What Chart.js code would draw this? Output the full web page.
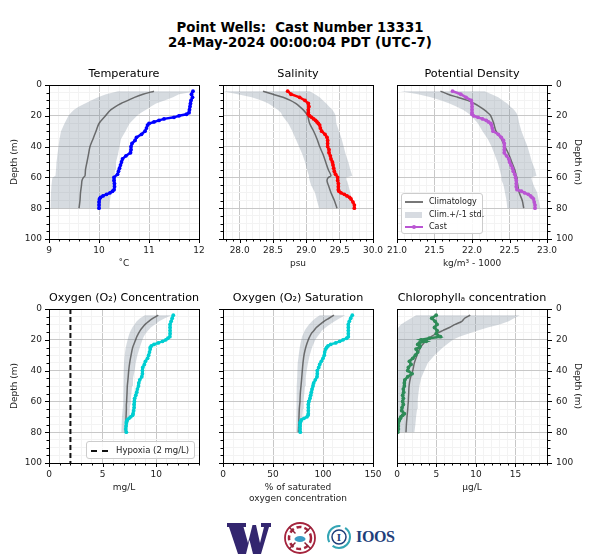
<!DOCTYPE html>
<html>
<head>
<meta charset="utf-8">
<script src="https://cdn.jsdelivr.net/npm/chart.js@4"></script>
<style>
  body { margin: 0; background: #fff; font-family: "DejaVu Sans", sans-serif; color: #000; }
  #page { position: relative; width: 600px; height: 560px; overflow: hidden; }
  canvas { position: absolute; }
  #heading { position: absolute; left: 0; top: 20px; width: 600px; text-align: center; font-weight: bold; font-size: 13.3px; line-height: 15px; white-space: pre; }
  .legend { position: absolute; z-index: 2; background: rgba(255,255,255,.85); border: 1px solid #ccc; border-radius: 3px; box-sizing: border-box; color: #222; }
  .legend div { display: flex; align-items: center; white-space: nowrap; }
  .legend i { display: inline-block; flex: none; position: relative; }
  .legend b { position: absolute; left: 7px; top: -3px; width: 4px; height: 4px; border-radius: 50%; background: #ba55d3; }
  #logos { position: absolute; left: 0; top: 515px; }
</style>
</head>
<body>
<div id="page">
  <div id="heading">Point Wells:  Cast Number 13331
24-May-2024 00:00:04 PDT (UTC-7)</div>
  <div class="legend" style="left:401px;top:193px;width:82px;height:41px;padding:2px 0 0 3px;font-size:8px;line-height:12.5px">
    <div><i style="width:18px;height:0;border-top:2px solid #777;margin-right:6px"></i>Climatology</div>
    <div><i style="width:17px;height:6px;background:#d7dbe1;margin-right:7px"></i>Clim.+/-1 std.</div>
    <div><i style="width:18px;height:0;border-top:2px solid #ba55d3;margin-right:6px"><b></b></i>Cast</div>
  </div>
  <div class="legend" style="left:86px;top:441px;width:109px;height:18px;padding:2px 0 0 4px;font-size:8.5px;line-height:13px">
    <div><i style="width:17px;height:0;border-top:2px dashed #111;margin-right:8px"></i>Hypoxia (2 mg/L)</div>
  </div>
  <svg id="logos" width="600" height="45" viewBox="0 515 600 45">
    <path fill="#33266f" d="M227 523H246V527H243.500L248 543L252.500 525H256L260 543L264 527H261V523H271V527H269L261 554H253L249.500 540L246 554H238L229 527H227Z"/>
    <circle cx="300" cy="538" r="15" fill="#fff" stroke="#a5243d" stroke-width="1.800"/>
    <circle cx="300" cy="538" r="11" fill="none" stroke="#a5243d" stroke-width="2.500" stroke-dasharray="5 3"/>
    <path d="M289 527l22 22M311 527l-22 22" stroke="#8c2237" stroke-width="1.500"/>
    <circle cx="300" cy="538" r="6.500" fill="#fff"/>
    <ellipse cx="300" cy="539" rx="5.500" ry="3" fill="#3a9cc4"/>
    <circle cx="339" cy="537" r="11" fill="none" stroke="#33a5b5" stroke-width="2" stroke-dasharray="24 5"/>
    <circle cx="339" cy="537" r="7" fill="none" stroke="#1f3f7a" stroke-width="1.500"/>
    <text x="339" y="541" text-anchor="middle" font-family="Liberation Serif" font-weight="bold" font-size="11" fill="#1f3f7a">I</text>
    <text x="356" y="542" font-family="Liberation Serif" font-weight="bold" font-size="16" fill="#1f3f7a" textLength="39">IOOS</text>
  </svg>
</div>
<script>
// Depths (m) shared by the cast series and by the climatology series
const castDepths = [4, 6, 8, 10, 12, 14, 16, 18, 19, 20, 21, 22, 23, 24, 25, 26, 28, 30, 32, 34, 36, 38, 40, 42, 44, 46, 48, 50, 52, 54, 56, 58, 60, 62, 64, 66, 68, 69, 70, 71, 72, 73, 74, 76, 78, 80];
const climDepths = [4, 6, 8, 10, 12, 14, 16, 18, 20, 25, 30, 35, 40, 45, 50, 55, 59, 60, 62, 65, 70, 75, 80];

const tempCast = [11.88, 11.85, 11.87, 11.84, 11.83, 11.82, 11.81, 11.8, 11.75, 11.6, 11.5, 11.3, 11.2, 11.1, 11.0, 10.97, 10.95, 10.92, 10.85, 10.75, 10.72, 10.66, 10.64, 10.64, 10.63, 10.54, 10.47, 10.45, 10.43, 10.41, 10.39, 10.37, 10.3, 10.3, 10.31, 10.31, 10.3, 10.27, 10.22, 10.15, 10.08, 10.03, 10.01, 10.0, 10.0, 10.0];
const tempClim = [11.1, 10.88, 10.71, 10.58, 10.44, 10.33, 10.24, 10.18, 10.13, 10.0, 9.94, 9.88, 9.82, 9.79, 9.76, 9.73, 9.72, 9.69, 9.66, 9.65, 9.63, 9.62, 9.6];
const tempLow = [10.38, 10.14, 9.98, 9.84, 9.72, 9.6, 9.5, 9.44, 9.39, 9.31, 9.24, 9.21, 9.19, 9.17, 9.15, 9.14, 9.13, 9.07, 9.06, 9.05, 9.04, 9.03, 9.03];
const tempHigh = [11.95, 11.6, 11.48, 11.31, 11.14, 11.04, 10.94, 10.84, 10.76, 10.61, 10.53, 10.44, 10.41, 10.38, 10.34, 10.32, 10.31, 10.31, 10.3, 10.28, 10.24, 10.22, 10.21];

const salCast = [28.72, 28.77, 28.9, 28.98, 29.03, 29.04, 29.03, 29.03, 29.03, 29.05, 29.08, 29.11, 29.14, 29.16, 29.18, 29.2, 29.21, 29.23, 29.28, 29.31, 29.32, 29.32, 29.32, 29.34, 29.34, 29.36, 29.37, 29.39, 29.4, 29.41, 29.42, 29.44, 29.47, 29.47, 29.48, 29.48, 29.48, 29.49, 29.52, 29.57, 29.61, 29.65, 29.67, 29.7, 29.72, 29.72];
const salClim = [28.35, 28.5, 28.65, 28.76, 28.84, 28.9, 28.95, 28.99, 29.02, 29.05, 29.11, 29.16, 29.2, 29.25, 29.29, 29.33, 29.37, 29.33, 29.31, 29.33, 29.37, 29.42, 29.46];
const salLow = [27.75, 27.97, 28.18, 28.33, 28.43, 28.5, 28.57, 28.62, 28.64, 28.73, 28.79, 28.84, 28.89, 28.94, 28.98, 29.01, 29.04, 29.04, 29.05, 29.07, 29.13, 29.16, 29.19];
const salHigh = [29.05, 29.13, 29.2, 29.25, 29.3, 29.34, 29.39, 29.42, 29.44, 29.45, 29.49, 29.53, 29.56, 29.59, 29.63, 29.66, 29.69, 29.6, 29.61, 29.63, 29.66, 29.68, 29.7];

const densCast = [21.74, 21.85, 21.92, 21.99, 22.0, 22.0, 22.0, 22.0, 22.0, 22.02, 22.08, 22.14, 22.19, 22.22, 22.25, 22.26, 22.27, 22.28, 22.35, 22.39, 22.42, 22.43, 22.43, 22.43, 22.43, 22.46, 22.49, 22.5, 22.52, 22.54, 22.55, 22.57, 22.58, 22.59, 22.59, 22.59, 22.6, 22.66, 22.7, 22.75, 22.78, 22.8, 22.82, 22.83, 22.84, 22.84];
const densClim = [21.58, 21.68, 21.81, 21.94, 22.03, 22.1, 22.16, 22.21, 22.25, 22.29, 22.32, 22.39, 22.44, 22.49, 22.53, 22.57, 22.59, 22.6, 22.6, 22.61, 22.63, 22.67, 22.69];
const densLow = [21.05, 21.28, 21.45, 21.59, 21.7, 21.79, 21.88, 21.94, 21.99, 22.08, 22.14, 22.21, 22.26, 22.3, 22.34, 22.37, 22.39, 22.39, 22.4, 22.42, 22.44, 22.46, 22.47];
const densHigh = [22.17, 22.26, 22.35, 22.41, 22.47, 22.51, 22.56, 22.59, 22.61, 22.63, 22.66, 22.7, 22.74, 22.77, 22.8, 22.84, 22.86, 22.79, 22.8, 22.82, 22.87, 22.89, 22.91];

const oxyCast = [11.6, 11.5, 11.4, 11.3, 11.3, 11.3, 11.3, 11.28, 11.1, 10.9, 10.6, 10.2, 9.8, 9.55, 9.45, 9.45, 9.38, 9.3, 9.2, 9.0, 8.9, 8.75, 8.72, 8.72, 8.66, 8.47, 8.38, 8.35, 8.25, 8.19, 8.1, 8.0, 7.97, 7.94, 7.94, 7.9, 7.85, 7.8, 7.63, 7.47, 7.3, 7.25, 7.22, 7.19, 7.16, 7.22];
const oxyClim = [10.2, 9.72, 9.31, 8.97, 8.72, 8.5, 8.34, 8.19, 8.09, 7.81, 7.66, 7.53, 7.44, 7.38, 7.31, 7.28, 7.25, 7.25, 7.22, 7.22, 7.19, 7.16, 7.13];
const oxyLow = [8.94, 8.5, 8.19, 7.97, 7.78, 7.63, 7.5, 7.41, 7.34, 7.16, 7.06, 7.0, 6.97, 6.94, 6.91, 6.91, 6.91, 6.91, 6.91, 6.88, 6.81, 6.78, 6.72];
const oxyHigh = [11.44, 10.81, 10.28, 9.88, 9.5, 9.25, 9.0, 8.84, 8.72, 8.47, 8.25, 8.09, 8.0, 7.84, 7.75, 7.69, 7.63, 7.63, 7.59, 7.53, 7.47, 7.38, 7.31];
const hypoxiaX = [2, 2];
const hypoxiaDepth = [0, 100];

const satCast = [129.3, 127.7, 126.3, 125.3, 125.3, 125.3, 125.3, 125.3, 123.7, 120, 116.7, 112.7, 107.7, 105, 103.7, 102.7, 101.7, 101.3, 100, 98.3, 96.7, 95.7, 94.3, 94.3, 94, 92.3, 90.7, 90, 89, 88.3, 87.7, 87, 85.7, 85.3, 85.3, 85.3, 85.3, 85, 84, 81, 78.3, 77.7, 77, 77, 77, 77.3];
const satClim = [111, 106, 101, 97, 93.3, 91, 88.3, 86.7, 85.3, 82.7, 81, 80, 79.3, 78.7, 78, 77.3, 77, 77, 76.7, 76.3, 76, 75.7, 75.3];
const satLow = [96.7, 92.3, 89, 86, 83.7, 81.7, 80.3, 79, 78.3, 76.7, 75.7, 74.7, 74.3, 74, 73.7, 73.7, 73.7, 73.3, 73.3, 73, 73, 73, 73];
const satHigh = [122.3, 116.7, 111.7, 106.7, 102.7, 99, 96.7, 94.3, 92.3, 89, 86.7, 85, 83.7, 82.7, 82, 81.3, 80.7, 80.7, 80.3, 80, 79.3, 78.7, 78];

const chlCast = [4.96, 4.4, 4.83, 5.08, 4.75, 5.08, 4.96, 5.5, 4.1, 3.05, 3.7, 2.84, 2.63, 2.92, 2.84, 2.42, 2.63, 2.33, 2.0, 1.57, 1.78, 1.44, 1.36, 1.9, 1.36, 1.0, 0.93, 0.93, 0.8, 0.85, 0.72, 0.8, 0.72, 0.8, 0.64, 0.6, 0.93, 0.72, 0.5, 0.42, 0.3, 0.2, 0.17, 0.17, 0.17, 0.1];
const chlClim = [9.28, 8.56, 8.22, 7.37, 6.65, 5.8, 4.96, 4.32, 3.81, 2.97, 2.54, 2.2, 2.0, 1.69, 1.53, 1.48, 1.44, 1.44, 1.4, 1.36, 1.27, 1.19, 1.14];
const chlLow = [2.42, 1.78, 1.14, 0.5, 0.17, 0, 0, 0, 0, 0, 0, 0, 0, 0, 0, 0, 0, 0, 0, 0, 0, 0, 0];
const chlHigh = [15.55, 14.83, 14.15, 13, 11.5, 10.25, 9, 7.9, 7.08, 5.8, 4.75, 3.9, 3.47, 3.05, 2.84, 2.71, 2.63, 2.63, 2.63, 2.54, 2.42, 2.33, 2.2];

// Axis ticks
const depthMajor = [0, 20, 40, 60, 80, 100];
const depthLabels = ['0', '20', '40', '60', '80', '100'];
const tempMajor = [9, 10, 11, 12];
const tempLabels = ['9', '10', '11', '12'];
const salMajor = [28, 28.5, 29, 29.5, 30];
const salLabels = ['28.0', '28.5', '29.0', '29.5', '30.0'];
const densMajor = [21, 21.5, 22, 22.5, 23];
const densLabels = ['21.0', '21.5', '22.0', '22.5', '23.0'];
const oxyMajor = [0, 5, 10];
const oxyLabels = ['0', '5', '10'];
const satMajor = [0, 50, 100, 150];
const satLabels = ['0', '50', '100', '150'];
const chlMajor = [0, 5, 10, 15];
const chlLabels = ['0', '5', '10', '15'];

const FONT = '"DejaVu Sans", sans-serif';
const TEXT = '#222';
const CLIM_COLOR = 'rgba(70,70,70,0.75)';
const BAND_COLOR = 'rgba(119,136,153,0.3)';
const TITLE_H = 25;
const PLOT_H = 154;

const pts = (xs, ys) => xs.map((x, i) => ({ x, y: ys[i] }));
const round3 = v => Math.round(v * 1000) / 1000;

const stepTicks = (min, max, step) => {
  const out = [];
  for (let v = Math.ceil(min / step - 1e-6) * step; v <= max + 1e-6; v += step) out.push(round3(v));
  return out;
};

// box around the plot and the tick marks, long on labelled ticks
const framePlugin = (xMajor, yRight) => ({
  id: 'frame',
  afterDraw(chart) {
    const { ctx, chartArea: a, scales } = chart;
    ctx.save();
    ctx.strokeStyle = '#000';
    ctx.lineWidth = 1;
    ctx.strokeRect(a.left + 0.5, a.top + 0.5, a.right - a.left, a.bottom - a.top);
    ctx.beginPath();
    scales.x.ticks.forEach(t => {
      const px = Math.round(scales.x.getPixelForValue(t.value)) + 0.5;
      ctx.moveTo(px, a.bottom);
      ctx.lineTo(px, a.bottom + (xMajor.includes(t.value) ? 4 : 2.5));
    });
    scales.y.ticks.forEach(t => {
      const py = Math.round(scales.y.getPixelForValue(t.value)) + 0.5;
      const len = depthMajor.includes(t.value) ? 4 : 2.5;
      const edge = yRight ? a.right + 1 : a.left;
      ctx.moveTo(edge, py);
      ctx.lineTo(edge + (yRight ? len : -len), py);
    });
    ctx.stroke();
    ctx.restore();
  }
});

const makePanel = p => {
  const xHeight = p.xHeight || 30;
  const canvas = document.createElement('canvas');
  canvas.width = p.width;
  canvas.height = TITLE_H + PLOT_H + xHeight;
  canvas.style.left = p.left + 'px';
  canvas.style.top = p.top + 'px';
  document.getElementById('page').appendChild(canvas);

  const datasets = (p.extra || []).concat([
    { data: pts(p.cast, castDepths), borderColor: p.color, backgroundColor: p.color, borderWidth: 2.5, pointRadius: 1.9, pointBorderWidth: 0, order: 1 },
    { data: pts(p.clim, climDepths), borderColor: CLIM_COLOR, borderWidth: 1.5, pointRadius: 0, tension: 0.3, order: 2 },
    {
      data: pts(p.low.concat(p.high.slice().reverse()), climDepths.concat(climDepths.slice().reverse())),
      borderWidth: 0, pointRadius: 0, backgroundColor: BAND_COLOR, fill: 'shape', order: 3
    }
  ]);
  datasets.forEach(d => { d.showLine = true; });

  const gridColor = majors => ctx => majors.includes(ctx.tick.value) ? '#c8c8c8' : '#f3f3f3';
  const label = (majors, labels) => v => {
    const i = majors.indexOf(round3(v));
    return i < 0 ? '' : labels[i];
  };
  const tickFont = { family: FONT, size: 9 };

  return new Chart(canvas, {
    type: 'scatter',
    data: { datasets },
    plugins: [framePlugin(p.xMajor, p.yRight)],
    options: {
      responsive: false,
      animation: false,
      layout: { padding: { left: p.padLeft, right: p.padRight, top: 0, bottom: 0 } },
      plugins: {
        legend: { display: false },
        tooltip: { enabled: false },
        title: {
          display: true,
          fullSize: false,
          text: p.title,
          color: '#000',
          font: { family: FONT, size: 11.2, weight: 'normal', lineHeight: 1.2 },
          padding: { top: 7, bottom: TITLE_H - 7 - 11.2 * 1.2 }
        }
      },
      scales: {
        x: {
          type: 'linear',
          min: p.xMin,
          max: p.xMax,
          afterBuildTicks: s => { s.ticks = stepTicks(p.xMin, p.xMax, p.xMinor).map(value => ({ value })); },
          afterFit: s => { s.height = xHeight; s.paddingLeft = 0; s.paddingRight = 0; },
          grid: { color: gridColor(p.xMajor), drawTicks: false },
          border: { display: false },
          ticks: { callback: label(p.xMajor, p.xLabels), autoSkip: false, maxRotation: 0, padding: 6, color: TEXT, font: tickFont },
          title: { display: true, text: p.xTitle, color: TEXT, font: { family: FONT, size: 9 }, padding: { top: 5, bottom: 0 } }
        },
        y: {
          type: 'linear',
          position: p.yRight ? 'right' : 'left',
          reverse: true,
          min: 0,
          max: 100,
          afterBuildTicks: s => { s.ticks = stepTicks(0, 100, 5).map(value => ({ value })); },
          afterFit: s => { s.width = p.yWidth; s.paddingTop = 0; s.paddingBottom = 0; },
          grid: { color: gridColor(depthMajor), drawTicks: false },
          border: { display: false },
          ticks: { display: p.yLabels, callback: label(depthMajor, depthLabels), autoSkip: false, padding: p.yRight ? 9 : 7, color: TEXT, font: tickFont },
          title: { display: p.yLabels, text: 'Depth (m)', color: TEXT, font: { family: FONT, size: 9 }, padding: 0 }
        }
      }
    }
  });
};

// column and row boxes of the 2x3 figure
const cols = [
  { left: 9, width: 196, padLeft: 0, padRight: 6, yWidth: 40, yRight: false, yLabels: true },
  { left: 205, width: 180, padLeft: 0, padRight: 12, yWidth: 18, yRight: false, yLabels: false },
  { left: 380, width: 203, padLeft: 17, padRight: 0, yWidth: 36, yRight: true, yLabels: true }
];
const rows = [{ top: 60 }, { top: 284 }];

makePanel({ ...cols[0], ...rows[0], title: 'Temperature', cast: tempCast, clim: tempClim, low: tempLow, high: tempHigh, color: '#0000ff',
  xMin: 9, xMax: 12, xMinor: 0.2, xMajor: tempMajor, xLabels: tempLabels, xTitle: '˚C' });
makePanel({ ...cols[1], ...rows[0], title: 'Salinity', cast: salCast, clim: salClim, low: salLow, high: salHigh, color: '#ff0000',
  xMin: 27.75, xMax: 30, xMinor: 0.1, xMajor: salMajor, xLabels: salLabels, xTitle: 'psu' });
makePanel({ ...cols[2], ...rows[0], title: 'Potential Density', cast: densCast, clim: densClim, low: densLow, high: densHigh, color: '#ba55d3',
  xMin: 21, xMax: 23, xMinor: 0.1, xMajor: densMajor, xLabels: densLabels, xTitle: 'kg/m³ - 1000' });
makePanel({ ...cols[0], ...rows[1], title: 'Oxygen (O₂) Concentration', cast: oxyCast, clim: oxyClim, low: oxyLow, high: oxyHigh, color: '#00ced1',
  xMin: 0, xMax: 14, xMinor: 1, xMajor: oxyMajor, xLabels: oxyLabels, xTitle: 'mg/L',
  extra: [{ data: pts(hypoxiaX, hypoxiaDepth), borderColor: '#111', borderWidth: 2, borderDash: [5, 3], pointRadius: 0, order: 0 }] });
makePanel({ ...cols[1], ...rows[1], xHeight: 41, title: 'Oxygen (O₂) Saturation', cast: satCast, clim: satClim, low: satLow, high: satHigh, color: '#00ced1',
  xMin: 0, xMax: 150, xMinor: 10, xMajor: satMajor, xLabels: satLabels, xTitle: ['% of saturated', 'oxygen concentration'] });
makePanel({ ...cols[2], ...rows[1], title: 'Chlorophyllₐ concentration', cast: chlCast, clim: chlClim, low: chlLow, high: chlHigh, color: '#2e8b57',
  xMin: 0, xMax: 19, xMinor: 1, xMajor: chlMajor, xLabels: chlLabels, xTitle: 'µg/L' });
</script>
</body>
</html>
